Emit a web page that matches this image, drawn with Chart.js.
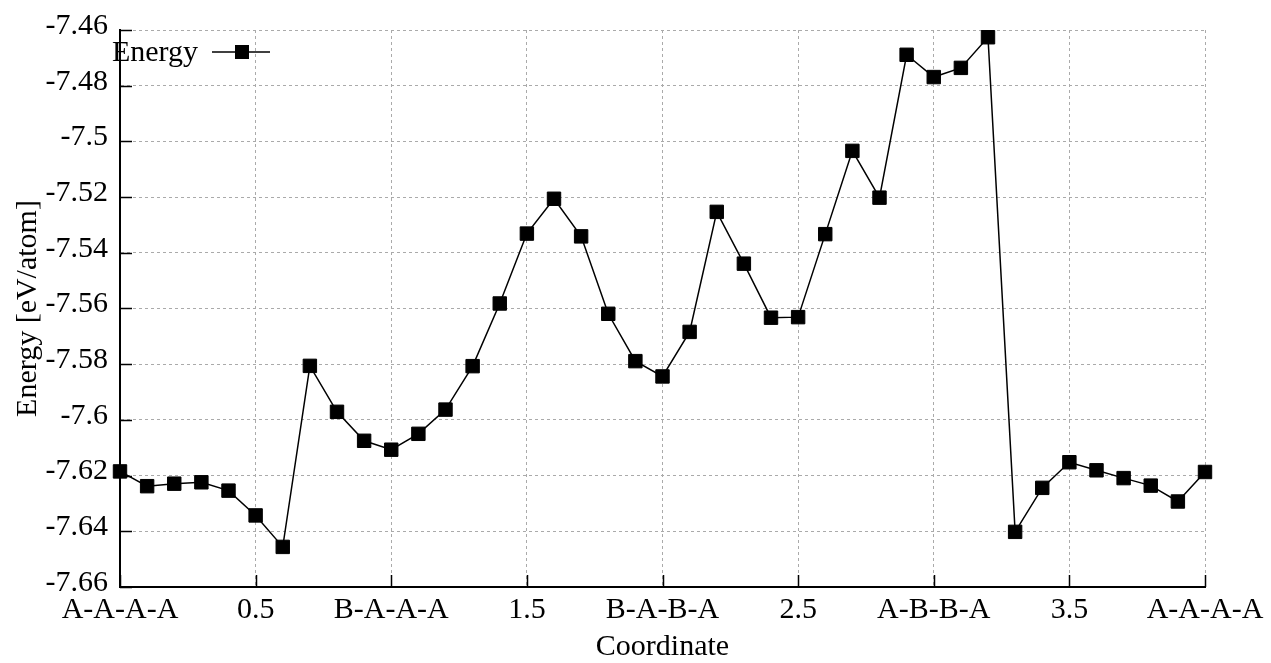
<!DOCTYPE html>
<html>
<head>
<meta charset="utf-8">
<script src="https://cdn.jsdelivr.net/npm/chart.js@4"></script>
<style>
  html, body { margin: 0; padding: 0; background: #fff; }
  #wrap { width: 1271px; height: 663px; }
</style>
</head>
<body>
<div id="wrap"><canvas id="c"></canvas></div>
<script>
// reaction coordinate of each image along the path
const coords = [0, 0.1, 0.2, 0.3, 0.4, 0.5, 0.6, 0.7, 0.8, 0.9,
  1.0, 1.1, 1.2, 1.3, 1.4, 1.5, 1.6, 1.7, 1.8, 1.9,
  2.0, 2.1, 2.2, 2.3, 2.4, 2.5, 2.6, 2.7, 2.8, 2.9,
  3.0, 3.1, 3.2, 3.3, 3.4, 3.5, 3.6, 3.7, 3.8, 3.9, 4.0];

// energy in eV/atom
const energy = [-7.6185, -7.6238, -7.6229, -7.6224, -7.6254, -7.6343, -7.6456, -7.5806, -7.5971, -7.6075,
  -7.6107, -7.6050, -7.5963, -7.5807, -7.5582, -7.5331, -7.5206, -7.5341, -7.5619, -7.5789,
  -7.5844, -7.5684, -7.5253, -7.5439, -7.5633, -7.5631, -7.5333, -7.5034, -7.5202, -7.4689,
  -7.4769, -7.4736, -7.4626, -7.6402, -7.6244, -7.6152, -7.6181, -7.6209, -7.6236, -7.6293, -7.6187];

// x tick labels at 0, 0.5, ... 4
const xTickLabels = ['A-A-A-A', '0.5', 'B-A-A-A', '1.5', 'B-A-B-A', '2.5', 'A-B-B-A', '3.5', 'A-A-A-A'];

const FONT = '"Liberation Serif", "DejaVu Serif", serif';
const FS = 30;

// gnuplot style: ticks drawn inward, legend with sample on the right
const gnuplotBits = {
  id: 'gnuplotBits',
  afterDraw(chart) {
    const ctx = chart.ctx;
    const {left, right, top, bottom} = chart.chartArea;
    const xs = chart.scales.x, ys = chart.scales.y;
    ctx.save();
    ctx.strokeStyle = '#000';
    ctx.lineWidth = 1.5;
    ctx.beginPath();
    xs.ticks.forEach(t => {
      const px = Math.round(xs.getPixelForValue(t.value)) + 0.5;
      ctx.moveTo(px, bottom);
      ctx.lineTo(px, bottom - 12);
    });
    ys.ticks.forEach(t => {
      const py = Math.round(ys.getPixelForValue(t.value)) + 0.5;
      ctx.moveTo(left, py);
      ctx.lineTo(left + 12, py);
    });
    ctx.stroke();

    // legend
    const ly = 52;
    ctx.font = FS + 'px ' + FONT;
    ctx.fillStyle = '#000';
    ctx.textAlign = 'right';
    ctx.textBaseline = 'middle';
    ctx.fillText(chart.data.datasets[0].label, 198, ly + 1);
    ctx.beginPath();
    ctx.moveTo(212, ly);
    ctx.lineTo(270, ly);
    ctx.stroke();
    ctx.fillRect(242 - 7, ly - 7, 14, 14);
    ctx.restore();
  }
};

new Chart(document.getElementById('c'), {
  type: 'line',
  data: {
    datasets: [{
      label: 'Energy',
      data: coords.map((x, i) => ({x: x, y: energy[i]})),
      borderColor: '#000',
      backgroundColor: '#000',
      borderWidth: 1.5,
      pointStyle: 'rect',
      pointRadius: 9.5,
      pointBorderWidth: 1,
      pointBackgroundColor: '#000',
      pointBorderColor: '#000',
      tension: 0,
      clip: false
    }]
  },
  options: {
    responsive: true,
    maintainAspectRatio: false,
    animation: false,
    events: [],
    layout: { padding: { left: 0, top: 28, right: 66, bottom: 0 } },
    plugins: {
      legend: { display: false },
      tooltip: { enabled: false }
    },
    scales: {
      x: {
        type: 'linear',
        min: 0,
        max: 4,
        afterFit(s) { s.height = 76; },
        ticks: {
          stepSize: 0.5,
          padding: 5,
          color: '#000',
          maxRotation: 0,
          autoSkip: false,
          font: { family: FONT, size: FS },
          callback: (v) => xTickLabels[Math.round(v * 2)]
        },
        grid: { color: '#aaa', lineWidth: 1, drawTicks: false },
        border: { display: true, color: '#000', width: 2, dash: [3, 3] },
        title: {
          display: true,
          text: 'Coordinate',
          color: '#000',
          font: { family: FONT, size: FS },
          padding: { top: 0, bottom: -2 }
        }
      },
      y: {
        min: -7.66,
        max: -7.46,
        afterFit(s) { s.width = 120; },
        ticks: {
          stepSize: 0.02,
          padding: 12,
          labelOffset: -4,
          color: '#000',
          font: { family: FONT, size: FS },
          callback: (v) => String(Number(v.toFixed(2)))
        },
        grid: { color: '#aaa', lineWidth: 1, drawTicks: false },
        border: { display: true, color: '#000', width: 2, dash: [3, 3] },
        title: {
          display: true,
          text: 'Energy [eV/atom]',
          color: '#000',
          font: { family: FONT, size: FS },
          padding: { top: 10, bottom: 0 }
        }
      }
    }
  },
  plugins: [gnuplotBits]
});
</script>
</body>
</html>
